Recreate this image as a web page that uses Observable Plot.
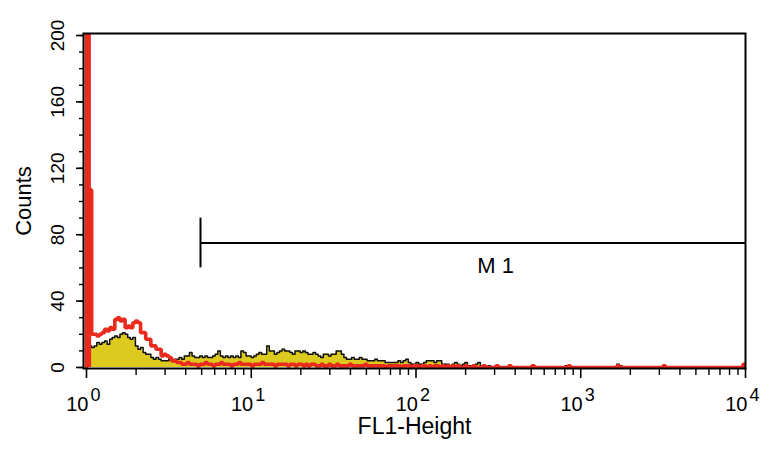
<!DOCTYPE html>
<html>
<head>
<meta charset="utf-8">
<script src="https://cdn.jsdelivr.net/npm/d3@7"></script>
<script src="https://cdn.jsdelivr.net/npm/@observablehq/plot@0.6"></script>
<style>
  html, body { margin: 0; padding: 0; background: #ffffff; }
</style>
</head>
<body>
<div id="chart"></div>
<script>
// FACS histogram: 256 channels spanning 4 log decades (64 channels per decade)
const channelsPerDecade = 64;

// Control (red outline) counts per channel
const redCounts = [
  210,107,20,20,19,20,21,23,22,24,
  23,29,30,28,29,24,25,24,27,28,
  27,21,21,17,17,13,13,11,11,7,
  8,7,6,4,4,3,3,2,2,3,
  2,2,2,1,2,2,3,2,2,1,
  2,2,3,2,2,2,1,2,2,3,
  2,2,2,2,1,2,2,2,3,2,
  2,2,2,1,2,2,2,2,1,2,
  2,1,2,2,1,2,1,2,2,1,
  1,2,1,1,2,1,1,2,1,1,
  1,1,2,1,1,1,1,1,2,1,
  1,1,1,1,1,1,0,1,1,1,
  1,1,0,1,1,1,0,1,1,0,
  1,1,0,1,0,1,1,0,1,0,
  1,0,1,0,1,0,0,1,0,0,
  1,0,0,0,1,0,0,0,0,1,
  0,0,0,0,1,0,0,0,0,0,
  0,0,0,1,0,0,0,0,0,0,
  0,0,0,0,0,0,0,1,0,0,
  0,0,0,0,0,0,0,0,0,0,
  0,0,0,0,0,0,1,0,0,0,
  0,0,0,0,0,0,0,0,0,0,
  0,0,0,0,1,0,0,0,0,0,
  0,0,0,0,0,0,0,0,0,0,
  0,0,0,0,0,0,0,0,0,0,
  0,0,0,0,0,2
];

// Sample (yellow filled, black outline) counts per channel
const yellowCounts = [
  14,13,12,13,15,14,15,16,14,17,
  18,19,18,20,21,20,18,17,18,13,
  11,12,9,8,8,6,5,6,5,4,
  4,4,5,4,5,5,6,5,7,7,
  9,7,6,6,7,6,7,6,6,7,
  8,10,7,6,7,6,7,6,7,6,
  10,9,7,7,6,7,8,9,8,8,
  13,10,10,8,9,10,11,10,10,9,
  8,10,10,9,10,9,8,8,9,8,
  7,6,8,8,7,8,8,10,10,8,
  6,5,5,6,5,5,6,5,5,4,
  4,4,5,4,4,4,3,3,3,3,
  3,4,3,4,5,3,2,2,3,2,
  2,3,4,4,4,3,4,4,2,2,
  2,1,2,3,2,1,2,3,1,1,
  1,2,3,1,1,0,1,0,0,1,
  0,0,0,0,1,0,0,0,0,0,
  0,0,0,0,0,0,0,0,0,0,
  0,0,0,0,0,0,1,0,0,0,
  0,0,0,0,0,0,0,0,0,0,
  0,0,0,0,0,0,2,1,0,0,
  0,0,0,0,0,0,0,0,0,0,
  0,0,0,0,0,0,0,0,0,0,
  0,0,0,0,0,0,0,0,0,0,
  0,0,0,0,0,0,0,0,0,0,
  0,0,0,0,0,0
];

// Axis ticks and labels
const yTickLabels = [0, 40, 80, 120, 160, 200];
const yMinorTicks = d3.range(0, 201, 10);
const xDecades = [1, 10, 100, 1000, 10000];
const xExponents = ["0", "1", "2", "3", "4"];
const xMinorTicks = [1, 10, 100, 1000].flatMap(d => [2,3,4,5,6,7,8,9].map(k => d * k));

// M1 marker gate
const markerRange = [4.92, 10000];
const markerY = 75;
const markerCapRange = [60, 90];
const markerLabel = "M 1";
const markerLabelPos = {x: 304, y: 57};

// Build step data (leading zero so the first channel rises from the baseline)
const rows = [{x: 1, red: 0, yellow: 0}];
redCounts.forEach((r, i) => rows.push({x: Math.pow(10, i / channelsPerDecade), red: r, yellow: yellowCounts[i]}));
rows.push({x: 10000, red: redCounts[redCounts.length - 1], yellow: yellowCounts[yellowCounts.length - 1]});
// the two tall first channels of the control (drawn solid, as in the scan)
const spikeRows = rows.slice(0, 4);

const chart = Plot.plot({
  width: 781,
  height: 450,
  marginLeft: 83,
  marginRight: 36,
  marginTop: 33,
  marginBottom: 82,
  x: {type: "log", domain: [1, 10000], insetLeft: 3},
  y: {domain: [0, 200], insetTop: 2, insetBottom: 1},
  style: {fontFamily: "'Liberation Sans', Arial, Helvetica, sans-serif", color: "black", background: "white", overflow: "visible"},
  marks: [
    Plot.areaY(rows, {x: "x", y: "yellow", curve: "step-after", fill: "#dccb1e", clip: true}),
    Plot.lineY(rows, {x: "x", y: "yellow", curve: "step-after", stroke: "#111", strokeWidth: 1.5, clip: true}),
    Plot.areaY(spikeRows, {x: "x", y: "red", curve: "step-after", fill: "#eb2a1e", clip: true}),
    Plot.lineY(rows, {x: "x", y: "red", curve: "step-after", stroke: "#eb2a1e", strokeWidth: 3.6, strokeLinejoin: "miter", clip: true}),
    // M1 gate
    Plot.ruleY([markerY], {x1: markerRange[0], x2: markerRange[1], stroke: "black", strokeWidth: 2}),
    Plot.ruleX([markerRange[0]], {y1: markerCapRange[0], y2: markerCapRange[1], stroke: "black", strokeWidth: 2}),
    Plot.text([markerLabel], {x: markerLabelPos.x, y: markerLabelPos.y, text: d => d, fontSize: 22, lineAnchor: "bottom", textAnchor: "middle", fill: "black"}),
    // frame
    Plot.frame({stroke: "black", strokeWidth: 2}),
    // y ticks
    Plot.axisY({ticks: yMinorTicks, tickSize: 4, tickFormat: () => "", label: null, strokeWidth: 1.4}),
    Plot.axisY({ticks: yTickLabels, tickSize: 7, tickFormat: () => "", label: null, strokeWidth: 1.6}),
    Plot.text(yTickLabels, {y: d => d, text: d => String(d), frameAnchor: "left", dx: -20, rotate: -90, lineAnchor: "bottom", textAnchor: "middle", fontSize: 19, fill: "black"}),
    Plot.text(["Counts"], {text: d => d, frameAnchor: "left", dx: -53, rotate: -90, lineAnchor: "bottom", textAnchor: "middle", fontSize: 22, fill: "black"}),
    // x ticks
    Plot.axisX({ticks: xMinorTicks, tickSize: 7, tickFormat: () => "", label: null, strokeWidth: 1.4}),
    Plot.axisX({ticks: xDecades, tickSize: 10, tickFormat: () => "", label: null, strokeWidth: 1.6}),
    Plot.text(xDecades, {x: d => d, text: () => "10", frameAnchor: "bottom", dx: 2, dy: 42, textAnchor: "end", lineAnchor: "bottom", fontSize: 20, fill: "black"}),
    Plot.text(xDecades, {x: d => d, text: (d, i) => xExponents[i], frameAnchor: "bottom", dx: 4, dy: 32, textAnchor: "start", lineAnchor: "bottom", fontSize: 18, fill: "black"}),
    Plot.text(["FL1-Height"], {text: d => d, frameAnchor: "bottom", dy: 65, textAnchor: "middle", lineAnchor: "bottom", fontSize: 23, fill: "black"})
  ]
});
document.getElementById("chart").appendChild(chart);
</script>
</body>
</html>
